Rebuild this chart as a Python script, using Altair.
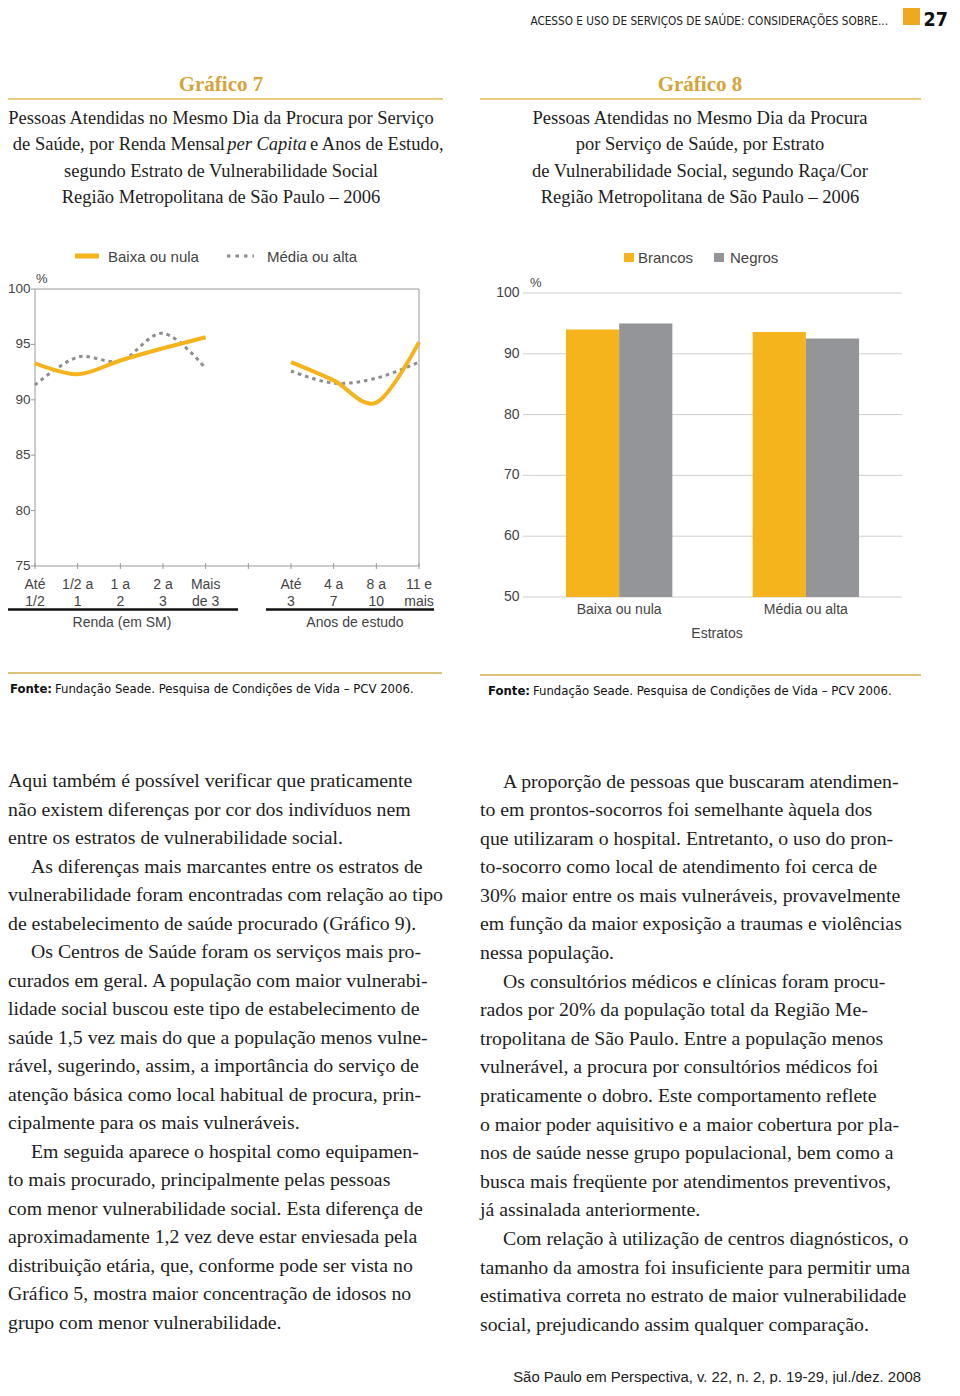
import altair as alt
import pandas as pd

# ------------------------------------------------------------------ data
renda_cats = ["Até 1/2", "1/2 a 1", "1 a 2", "2 a 3", "Mais de 3"]
renda_l1 = ["Até", "1/2 a", "1 a", "2 a", "Mais"]
renda_l2 = ["1/2", "1", "2", "3", "de 3"]
anos_cats = ["Até 3", "4 a 7", "8 a 10", "11 e mais"]
anos_l1 = ["Até", "4 a", "8 a", "11 e"]
anos_l2 = ["3", "7", "10", "mais"]
gap_cat = " "

series7 = ["Baixa ou nula", "Média ou alta"]
baixa_renda = [93.3, 92.3, 93.55, 94.65, 95.65]
media_renda = [91.35, 93.85, 93.5, 96.0, 92.85]
baixa_anos = [93.4, 91.75, 89.75, 95.2]
media_anos = [92.6, 91.5, 91.95, 93.4]
y7_ticks = [75, 80, 85, 90, 95, 100]

estratos = ["Baixa ou nula", "Média ou alta"]
racas = ["Brancos", "Negros"]
brancos = [94.0, 93.6]
negros = [95.0, 92.5]
y8_ticks = [50, 60, 70, 80, 90, 100]

header_text = "ACESSO E USO DE SERVIÇOS DE SAÚDE: CONSIDERAÇÕES SOBRE..."
page_number = "27"
title7 = "Gráfico 7"
sub7_line1 = "Pessoas Atendidas no Mesmo Dia da Procura por Serviço"
sub7_line2 = ["de Saúde, por Renda Mensal", "per Capita", "e Anos de Estudo,"]
sub7_rest = [
    "segundo Estrato de Vulnerabilidade Social",
    "Região Metropolitana de São Paulo – 2006",
]
title8 = "Gráfico 8"
sub8_lines = [
    "Pessoas Atendidas no Mesmo Dia da Procura",
    "por Serviço de Saúde, por Estrato",
    "de Vulnerabilidade Social, segundo Raça/Cor",
    "Região Metropolitana de São Paulo – 2006",
]
fonte_bold = "Fonte:"
fonte_rest = "Fundação Seade. Pesquisa de Condições de Vida – PCV 2006."
x7_titles = ["Renda (em SM)", "Anos de estudo"]
x8_title = "Estratos"

# body text: paragraphs (lines), and whether the first line is indented
body_left = [
    (False, [
        "Aqui também é possível verificar que praticamente",
        "não existem diferenças por cor dos indivíduos nem",
        "entre os estratos de vulnerabilidade social.",
    ]),
    (True, [
        "As diferenças mais marcantes entre os estratos de",
        "vulnerabilidade foram encontradas com relação ao tipo",
        "de estabelecimento de saúde procurado (Gráfico 9).",
    ]),
    (True, [
        "Os Centros de Saúde foram os serviços mais pro-",
        "curados em geral. A população com maior vulnerabi-",
        "lidade social buscou este tipo de estabelecimento de",
        "saúde 1,5 vez mais do que a população menos vulne-",
        "rável, sugerindo, assim, a importância do serviço de",
        "atenção básica como local habitual de procura, prin-",
        "cipalmente para os mais vulneráveis.",
    ]),
    (True, [
        "Em seguida aparece o hospital como equipamen-",
        "to mais procurado, principalmente pelas pessoas",
        "com menor vulnerabilidade social. Esta diferença de",
        "aproximadamente 1,2 vez deve estar enviesada pela",
        "distribuição etária, que, conforme pode ser vista no",
        "Gráfico 5, mostra maior concentração de idosos no",
        "grupo com menor vulnerabilidade.",
    ]),
]
body_right = [
    (True, [
        "A proporção de pessoas que buscaram atendimen-",
        "to em prontos-socorros foi semelhante àquela dos",
        "que utilizaram o hospital. Entretanto, o uso do pron-",
        "to-socorro como local de atendimento foi cerca de",
        "30% maior entre os mais vulneráveis, provavelmente",
        "em função da maior exposição a traumas e violências",
        "nessa população.",
    ]),
    (True, [
        "Os consultórios médicos e clínicas foram procu-",
        "rados por 20% da população total da Região Me-",
        "tropolitana de São Paulo. Entre a população menos",
        "vulnerável, a procura por consultórios médicos foi",
        "praticamente o dobro. Este comportamento reflete",
        "o maior poder aquisitivo e a maior cobertura por pla-",
        "nos de saúde nesse grupo populacional, bem como a",
        "busca mais freqüente por atendimentos preventivos,",
        "já assinalada anteriormente.",
    ]),
    (True, [
        "Com relação à utilização de centros diagnósticos, o",
        "tamanho da amostra foi insuficiente para permitir uma",
        "estimativa correta no estrato de maior vulnerabilidade",
        "social, prejudicando assim qualquer comparação.",
    ]),
]
footer_text = "São Paulo em Perspectiva, v. 22, n. 2, p. 19-29, jul./dez. 2008"

# ------------------------------------------------------------------ styles
SANS = "Liberation Sans, Arial, Helvetica, sans-serif"
NARROW = "Liberation Sans Narrow, Arial Narrow, DejaVu Sans Condensed, sans-serif"
SERIF = "Liberation Serif, Times New Roman, serif"
ORANGE = "#F5B31C"
GRAY_LINE = "#8E8E90"
GRAY_BAR = "#939598"
GOLD_T = "#D6A43A"
GOLD_R = "#E3BC55"
AX = "#9A9A9A"
TXT = "#444444"
BODY = "#1E1E1E"


def P(v):
    return v - 8


one = pd.DataFrame({"k": [0]})


def txt(text, x, y, size, font=SANS, color=TXT, align="left", weight="normal",
        style="normal", lh=None):
    kw = dict(align=align, baseline="alphabetic", fontSize=size, font=font,
              color=color, fontWeight=weight, fontStyle=style)
    if lh is not None:
        kw["lineHeight"] = lh
    return alt.Chart(one).mark_text(**kw).encode(
        x=alt.value(P(x)), y=alt.value(P(y)), text=alt.value(text))


def hrule(x1, x2, y, color, w, dash=None):
    kw = dict(color=color, strokeWidth=w)
    if dash is not None:
        kw["strokeDash"] = dash
        kw["strokeCap"] = "butt"
    return alt.Chart(one).mark_rule(**kw).encode(
        x=alt.value(P(x1)), x2=alt.value(P(x2)), y=alt.value(P(y)))


def box(x1, x2, y1, y2, color):
    return alt.Chart(one).mark_rect(color=color).encode(
        x=alt.value(P(x1)), x2=alt.value(P(x2)),
        y=alt.value(P(y1)), y2=alt.value(P(y2)))


layers = []

# ------------------------------------------------------------------ header
layers.append(txt(header_text, 888, 24.5, 11.7, font=NARROW, color="#222", align="right"))
layers.append(box(903, 920, 8, 25, "#F0A81E"))
layers.append(txt(page_number, 948, 26, 19.5, font=NARROW, color="#111", weight="bold", align="right"))

# ------------------------------------------------------------------ titles
SUB = 18.5
LH_SUB = 26.3
layers.append(txt(title7, 221, 91, 21, font=SERIF, color=GOLD_T, align="center", weight="bold"))
layers.append(hrule(0, 443, 99, GOLD_R, 1.5))
layers.append(txt(sub7_line1, 221, 124, SUB, font=SERIF, color=BODY, align="center"))
layers.append(txt(sub7_line2[0], 225, 124 + LH_SUB, SUB, font=SERIF, color=BODY, align="right"))
layers.append(txt(sub7_line2[1], 267, 124 + LH_SUB, SUB, font=SERIF, color=BODY, align="center", style="italic"))
layers.append(txt(sub7_line2[2], 310, 124 + LH_SUB, SUB, font=SERIF, color=BODY, align="left"))
layers.append(txt(sub7_rest, 221, 124 + 2 * LH_SUB, SUB, font=SERIF, color=BODY, align="center", lh=LH_SUB))

layers.append(txt(title8, 700, 91, 21, font=SERIF, color=GOLD_T, align="center", weight="bold"))
layers.append(hrule(480, 921, 99, GOLD_R, 1.5))
layers.append(txt(sub8_lines, 700, 124, SUB, font=SERIF, color=BODY, align="center", lh=LH_SUB))

# ------------------------------------------------------------------ chart 7
x7_domain = renda_cats + [gap_cat] + anos_cats
x7 = alt.Scale(type="point", domain=x7_domain, range=[P(35), P(419)], padding=0)
y7 = alt.Scale(type="linear", domain=[75, 100], range=[P(566), P(289)], nice=False, zero=False)

rows = []
for i, c in enumerate(renda_cats):
    rows.append(dict(cat=c, serie=series7[0], grupo="renda", idx=i, valor=baixa_renda[i]))
    rows.append(dict(cat=c, serie=series7[1], grupo="renda", idx=i, valor=media_renda[i]))
for i, c in enumerate(anos_cats):
    rows.append(dict(cat=c, serie=series7[0], grupo="anos", idx=10 + i, valor=baixa_anos[i]))
    rows.append(dict(cat=c, serie=series7[1], grupo="anos", idx=10 + i, valor=media_anos[i]))
df7 = pd.DataFrame(rows)

# frame
layers.append(alt.Chart(one).mark_rect(fillOpacity=0, stroke=AX, strokeWidth=1).encode(
    x=alt.value(P(35)), x2=alt.value(P(419)), y=alt.value(P(289)), y2=alt.value(P(566))))

# y ticks + labels
dfy7 = pd.DataFrame({"v": y7_ticks})
layers.append(alt.Chart(dfy7).mark_rule(color=AX, strokeWidth=1).encode(
    y=alt.Y("v:Q", scale=y7, axis=None), x=alt.value(P(31)), x2=alt.value(P(35))))
layers.append(alt.Chart(dfy7).mark_text(align="right", baseline="middle", fontSize=13.5,
                                        font=SANS, color=TXT).encode(
    y=alt.Y("v:Q", scale=y7, axis=None), x=alt.value(P(30.5)), text=alt.Text("v:Q")))
layers.append(txt("%", 36, 283, 13))

# x ticks + labels
dfx7 = pd.DataFrame({
    "cat": x7_domain,
    "l1": renda_l1 + [""] + anos_l1,
    "l2": renda_l2 + [""] + anos_l2,
})
layers.append(alt.Chart(dfx7).mark_rule(color=AX, strokeWidth=1).encode(
    x=alt.X("cat:N", scale=x7, axis=None), y=alt.value(P(563)), y2=alt.value(P(569))))
layers.append(alt.Chart(dfx7).mark_text(align="center", baseline="alphabetic", fontSize=14,
                                        font=SANS, color=TXT).encode(
    x=alt.X("cat:N", scale=x7, axis=None), y=alt.value(P(589)), text="l1:N"))
layers.append(alt.Chart(dfx7).mark_text(align="center", baseline="alphabetic", fontSize=14,
                                        font=SANS, color=TXT).encode(
    x=alt.X("cat:N", scale=x7, axis=None), y=alt.value(P(605.5)), text="l2:N"))
layers.append(hrule(7, 238, 609.5, "#111", 2.5))
layers.append(hrule(266, 434, 609.5, "#111", 2.5))
layers.append(txt(x7_titles[0], 122, 626.5, 14, align="center"))
layers.append(txt(x7_titles[1], 355, 626.5, 14, align="center"))

# lines
layers.append(alt.Chart(df7).transform_filter(alt.datum.serie == series7[1]).mark_line(
    interpolate="cardinal", color=GRAY_LINE, strokeWidth=3, strokeDash=[3.5, 4],
    strokeCap="butt").encode(
    x=alt.X("cat:N", scale=x7, axis=None),
    y=alt.Y("valor:Q", scale=y7, axis=None),
    detail="grupo:N", order="idx:Q"))
layers.append(alt.Chart(df7).transform_filter(alt.datum.serie == series7[0]).mark_line(
    interpolate="cardinal", color=ORANGE, strokeWidth=4).encode(
    x=alt.X("cat:N", scale=x7, axis=None),
    y=alt.Y("valor:Q", scale=y7, axis=None),
    detail="grupo:N", order="idx:Q"))

# legend 7
layers.append(hrule(75, 99, 256, ORANGE, 5))
layers.append(txt(series7[0], 108, 261.5, 15))
layers.append(hrule(227, 254, 256, GRAY_LINE, 3, dash=[3.5, 5]))
layers.append(txt(series7[1], 267, 261.5, 15))

# ------------------------------------------------------------------ chart 8
x8 = alt.Scale(type="band", domain=estratos, range=[P(523), P(902)],
               paddingInner=0.43, paddingOuter=0.23)
y8 = alt.Scale(type="linear", domain=[50, 100], range=[P(597), P(293)], nice=False, zero=False)
df8 = pd.DataFrame({
    "estrato": estratos * 2,
    "raca": [racas[0]] * 2 + [racas[1]] * 2,
    "valor": brancos + negros,
})
dfy8 = pd.DataFrame({"v": y8_ticks})
layers.append(alt.Chart(dfy8).mark_rule(color="#CFCFCF", strokeWidth=1).encode(
    y=alt.Y("v:Q", scale=y8, axis=None), x=alt.value(P(523)), x2=alt.value(P(902))))
layers.append(alt.Chart(dfy8).mark_text(align="right", baseline="middle", fontSize=14,
                                        font=SANS, color=TXT).encode(
    y=alt.Y("v:Q", scale=y8, axis=None), x=alt.value(P(519.5)), text=alt.Text("v:Q")))
layers.append(txt("%", 530, 287, 13))
layers.append(alt.Chart(df8).mark_bar().encode(
    x=alt.X("estrato:N", scale=x8, axis=None),
    xOffset=alt.XOffset("raca:N", scale=alt.Scale(domain=racas, paddingInner=0, paddingOuter=0)),
    y=alt.Y("valor:Q", scale=y8, axis=None),
    y2=alt.datum(50),
    color=alt.Color("raca:N", scale=alt.Scale(domain=racas, range=[ORANGE, GRAY_BAR]), legend=None),
))
dfx8 = pd.DataFrame({"estrato": estratos})
layers.append(alt.Chart(dfx8).mark_text(align="center", baseline="alphabetic", fontSize=14,
                                        font=SANS, color=TXT).encode(
    x=alt.X("estrato:N", scale=x8, axis=None), y=alt.value(P(614)), text="estrato:N"))
layers.append(txt(x8_title, 717, 638, 14, align="center"))

# legend 8
layers.append(box(624, 634, 253, 262, ORANGE))
layers.append(txt(racas[0], 638, 263, 15))
layers.append(box(714, 724, 253, 262, GRAY_BAR))
layers.append(txt(racas[1], 730, 263, 15))

# ------------------------------------------------------------------ fontes
FS_F = 13
layers.append(hrule(0, 442, 673, "#DCC37A", 2))
layers.append(hrule(480, 921, 675, "#DCC37A", 2))
layers.append(txt(fonte_bold, 10, 693, FS_F, font=NARROW, color="#111", weight="bold"))
layers.append(txt(fonte_rest, 55, 693, FS_F, font=NARROW, color="#111"))
layers.append(txt(fonte_bold, 488, 695, FS_F, font=NARROW, color="#111", weight="bold"))
layers.append(txt(fonte_rest, 533, 695, FS_F, font=NARROW, color="#111"))

# ------------------------------------------------------------------ body
FS_B = 19.8


def body(paragraphs, x, y0, lh):
    out = []
    k = 0
    for indent, lines in paragraphs:
        out.append(txt(lines[0], x + (23 if indent else 0), y0 + k * lh, FS_B,
                       font=SERIF, color=BODY))
        if len(lines) > 1:
            out.append(txt(lines[1:], x, y0 + (k + 1) * lh, FS_B, font=SERIF,
                           color=BODY, lh=lh))
        k += len(lines)
    return out


layers += body(body_left, 8, 787, 28.5)
layers += body(body_right, 480, 787.5, 28.6)

# ------------------------------------------------------------------ footer
layers.append(txt(footer_text, 921, 1382, 14.9, font=SANS, color="#222", align="right"))

chart = alt.layer(*layers).resolve_scale(
    x="independent", y="independent", color="independent"
).properties(
    width=944, height=1376, padding=0,
    autosize=alt.AutoSizeParams(type="none"),
).configure_view(strokeWidth=0)

chart.save("out.html", embed_options={"renderer": "svg", "actions": False})
